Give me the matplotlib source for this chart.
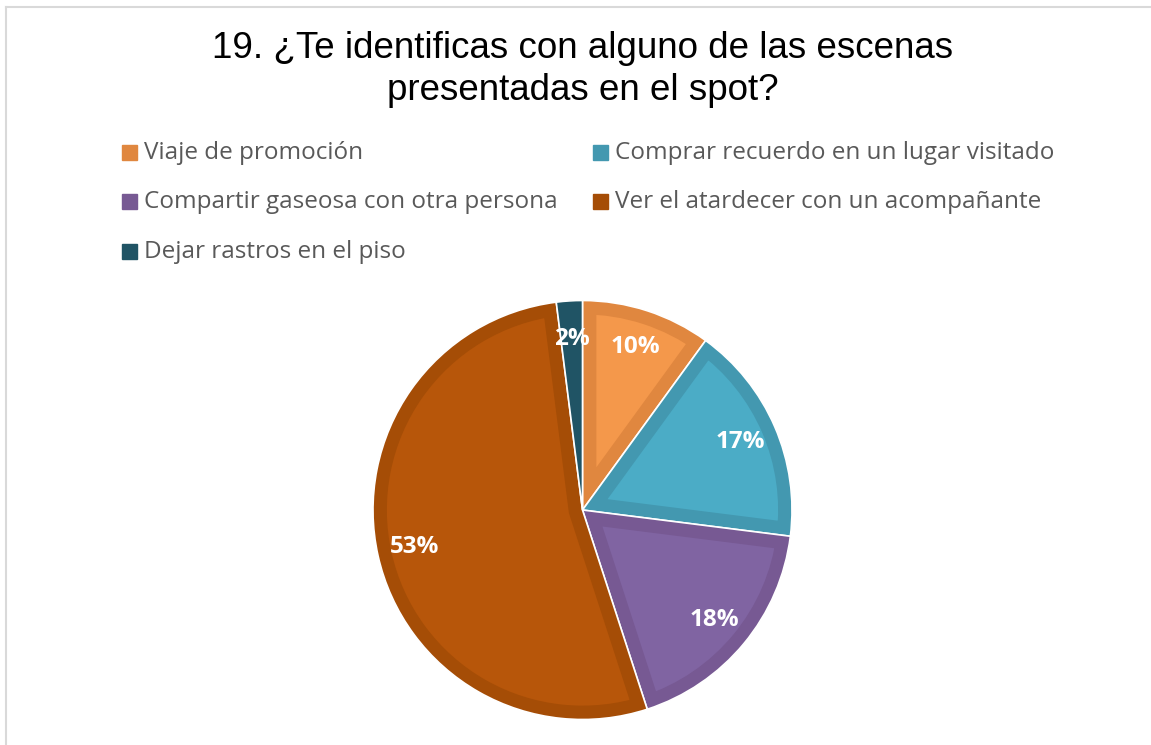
import matplotlib
matplotlib.use("Agg")
import matplotlib.pyplot as plt
from matplotlib.lines import Line2D
from matplotlib.patches import Wedge

categorias = ["Viaje de promoción", "Comprar recuerdo en un lugar visitado",
              "Compartir gaseosa con otra persona", "Ver el atardecer con un acompañante",
              "Dejar rastros en el piso"]
porcentajes = [10, 17, 18, 53, 2]
etiquetas = ["10%", "17%", "18%", "53%", "2%"]

colores_relleno = ["#F4984B", "#4BACC6", "#8064A2", "#B7560A", "#235E6E"]
colores_borde = ["#E0873F", "#4398B0", "#775993", "#A54D06", "#205465"]

W, H = 1151, 745
fig = plt.figure(figsize=(W / 100, H / 100), dpi=100)
fig.patch.set_facecolor("white")

# marco gris del grafico
fig.add_artist(Line2D([6 / W, 1], [1 - 7 / H, 1 - 7 / H], color="#D9D9D9", lw=1.5))
fig.add_artist(Line2D([6 / W, 6 / W], [0, 1 - 7 / H], color="#D9D9D9", lw=1.5))

# ejes del pastel: centro (582.5, 510) px, radio 209.5 px
cx, cy, R = 582.5, 510, 209.5
ax = fig.add_axes([(cx - R) / W, (H - cy - R) / H, 2 * R / W, 2 * R / H])
wedges, textos, autotextos = ax.pie(
    porcentajes, colors=colores_relleno, startangle=90, counterclock=False,
    labels=None, autopct="%1.0f%%", pctdistance=0.82, radius=1,
    wedgeprops=dict(edgecolor="white", linewidth=1))

for w, borde in zip(wedges, colores_borde):
    # borde interior grueso: trazo centrado en el contorno, recortado por la propia cuña
    w2 = Wedge(w.center, w.r, w.theta1, w.theta2,
               facecolor="none", edgecolor=borde, linewidth=20)
    ax.add_patch(w2)
    w2.set_clip_path(w)
    w3 = Wedge(w.center, w.r, w.theta1, w.theta2,
               facecolor="none", edgecolor="white", linewidth=1.2)
    ax.add_patch(w3)

for t, lab in zip(autotextos, etiquetas):
    t.set_text(lab)
    t.set_color("white")
    t.set_fontweight("bold")
    t.set_fontsize(17.5)
    t.set_family(["Open Sans", "DejaVu Sans"])
    t.set_zorder(10)

ax.set_xlim(-1, 1)
ax.set_ylim(-1, 1)
ax.set_aspect("equal")
ax.axis("off")

fig.text(cx / W, 1 - 48 / H, "19. ¿Te identificas con alguno de las escenas",
         ha="center", va="center", fontsize=26.5, family="Liberation Sans", color="#000000")
fig.text(cx / W, 1 - 90 / H, "presentadas en el spot?",
         ha="center", va="center", fontsize=26.5, family="Liberation Sans", color="#000000")

# leyenda en dos columnas
pos_leyenda = [(122, 153), (593, 153), (122, 202), (593, 202), (122, 252)]
for (x, y), nombre, col in zip(pos_leyenda, categorias, colores_borde):
    fig.add_artist(plt.Rectangle((x / W, 1 - (y + 7) / H), 15 / W, 15 / H,
                                 transform=fig.transFigure, color=col))
    fig.text((x + 22) / W, 1 - y / H, nombre, ha="left", va="center",
             fontsize=17.5, family="Open Sans", color="#595959")

fig.savefig("out.png", dpi=100, facecolor="white")
